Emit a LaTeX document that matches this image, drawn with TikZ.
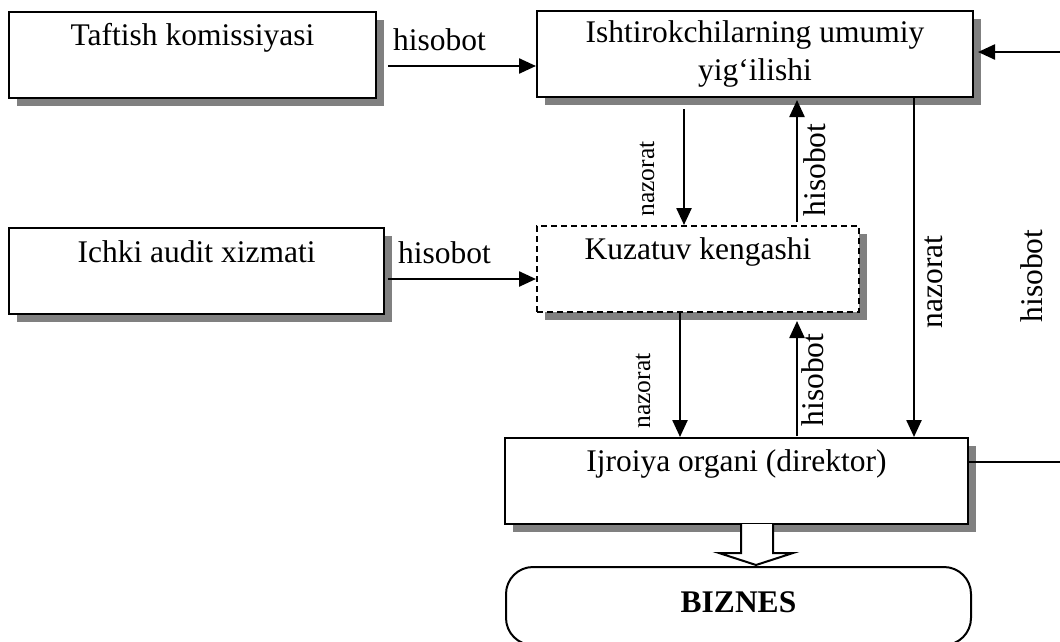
\documentclass[tikz,border=0pt]{standalone}
\usepackage{fontspec}
\setmainfont{Liberation Serif}
\usetikzlibrary{arrows.meta,calc,shadows}
\definecolor{shadowgray}{RGB}{128,128,128}
\begin{document}
\begin{tikzpicture}[x=1pt,y=-1pt,
  box/.style={draw, line width=2pt, fill=white, inner sep=0pt,
    general shadow={fill=shadowgray, shadow xshift=8pt, shadow yshift=-8pt}},
  dashbox/.style={dash pattern=on 6pt off 4pt},
  rbox/.style={draw, line width=2pt, fill=white, inner sep=0pt, rounded corners=27pt,
    font=\fontsize{31.5}{37}\selectfont\bfseries},
  lbl/.style={font=\fontsize{31.5}{37}\selectfont, inner sep=0pt},
  lbls/.style={font=\fontsize{25.5}{30}\selectfont, inner sep=0pt},
  arr/.style={line width=2.4pt, -{Triangle[length=17pt,width=15pt]}},
  plain/.style={line width=2.4pt},
  blockarrow/.style={draw, line width=2pt, fill=white, line join=miter}
]
\useasboundingbox (0,0) rectangle (1060,641);
\clip (0,0) rectangle (1060,641);
% boxes
\node[box, minimum width=367pt, minimum height=86pt] (b1) at (192.5,55) {};
\node[box, minimum width=436pt, minimum height=86pt] (b2) at (755,54) {};
\node[box, minimum width=375pt, minimum height=86pt] (b3) at (196.5,271) {};
\node[box, dashbox, minimum width=322pt, minimum height=86pt] (kz) at (698,269) {};
\node[box, minimum width=463pt, minimum height=86pt] (ij) at (736.5,481) {};
\node[rbox, minimum width=465pt, minimum height=78pt, text depth=8pt] (bz) at (738.5,606) {BIZNES};
% box texts
\node[lbl, anchor=base] (t1) at (192.5,45) {Taftish komissiyasi};
\node[lbl, anchor=base] (t2a) at (755,42) {Ishtirokchilarning umumiy};
\node[lbl, anchor=base] (t2b) at (755,80) {yig‘ilishi};
\node[lbl, anchor=base] (t3) at (196.5,262) {Ichki audit xizmati};
\node[lbl, anchor=base] (t4) at (698,259) {Kuzatuv kengashi};
\node[lbl, anchor=base] (t5) at (736.5,471) {Ijroiya organi (direktor)};
% block arrow
\path[blockarrow] (741,524) -- (741,553) -- (719,553) -- (756,565) -- (793,553) -- (773,553) -- (773,524);
% helper coordinates
\coordinate (xa) at (684,0);
\coordinate (xb) at (797,0);
\coordinate (xc) at (680,0);
\coordinate (xd) at (914,0);
\coordinate (r1) at (1062,52);
\coordinate (r2) at (1062,462);
% connectors
\draw[arr] ($(b1.east)+(11,11)$) -- ($(b2.west)+(0,12)$);
\draw[arr] ($(b3.east)+(3,8)$) -- ($(kz.west)+(0,10)$);
\draw[arr] (r1) -- ($(b2.east)+(4,-2)$);
\draw[arr] ($(b2.south -| xa)+(0,11)$) -- (kz.north -| xa);
\draw[arr] ($(kz.north -| xb)+(0,-3)$) -- ($(b2.south -| xb)+(0,2)$);
\draw[arr] (kz.south -| xc) -- (ij.north -| xc);
\draw[arr] ($(ij.north -| xb)+(0,-1)$) -- ($(kz.south -| xb)+(0,8)$);
\draw[arr] (b2.south -| xd) -- (ij.north -| xd);
\draw[plain] ($(ij.east)+(0,-19)$) -- (r2);
% connector labels
\node[lbl, anchor=base west] (h1) at (393,50) {hisobot};
\node[lbl, anchor=base west] (h2) at (398,263) {hisobot};
\node[lbls, rotate=90, anchor=base] (nz1) at (654,179) {nazorat};
\node[lbl, rotate=90, anchor=base] (hs1) at (825,170) {hisobot};
\node[lbls, rotate=90, anchor=base] (nz2) at (650,391) {nazorat};
\node[lbl, rotate=90, anchor=base] (hs2) at (823,380) {hisobot};
\node[lbl, rotate=90, anchor=base] (nz3) at (942,282) {nazorat};
\node[lbl, rotate=90, anchor=base] (hs3) at (1042,276) {hisobot};
\end{tikzpicture}
\end{document}
